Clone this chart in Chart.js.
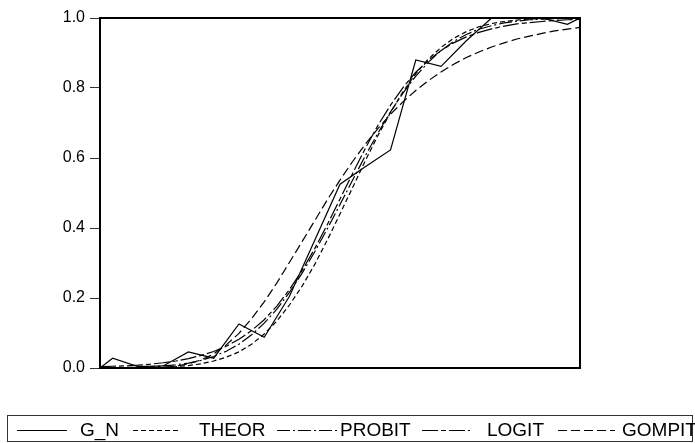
<!DOCTYPE html>
<html>
<head>
<meta charset="utf-8">
<script src="https://cdn.jsdelivr.net/npm/chart.js@4/dist/chart.umd.min.js"></script>
<style>
  html, body { margin: 0; padding: 0; background: #fff; }
  #c { display: block; }
</style>
</head>
<body>
<canvas id="c" width="695" height="443"></canvas>
<script>
// Observed share (G_N), at its observation points
const gnX = [0, 1, 3, 5, 7, 9, 11, 13, 15, 17, 19, 21, 23, 25, 27, 29, 31, 33, 35, 37, 38];
const gnY = [0.000, 0.028, 0.004, 0.006, 0.046, 0.028, 0.126, 0.088, 0.205, 0.365, 0.525,
             0.575, 0.623, 0.880, 0.862, 0.935, 1.000, 1.000, 1.000, 0.982, 1.000];

// Grid of the fitted curves
const fitX = [0, 1, 2, 3, 4, 5, 6, 7, 8, 9, 10, 11, 12, 13, 14, 15, 16, 17, 18, 19,
              20, 21, 22, 23, 24, 25, 26, 27, 28, 29, 30, 31, 32, 33, 34, 35, 36, 37, 38];

const theor = [0.000, 0.000, 0.000, 0.001, 0.001, 0.002, 0.004, 0.007, 0.012, 0.020,
               0.031, 0.046, 0.068, 0.097, 0.134, 0.180, 0.234, 0.296, 0.366, 0.440,
               0.516, 0.592, 0.664, 0.730, 0.790, 0.841, 0.883, 0.916, 0.942, 0.961,
               0.975, 0.984, 0.990, 0.994, 0.997, 0.998, 0.999, 1.000, 1.000];

const probit = [0.000, 0.001, 0.001, 0.002, 0.003, 0.006, 0.009, 0.014, 0.022, 0.033,
                0.048, 0.068, 0.095, 0.128, 0.168, 0.216, 0.271, 0.332, 0.398, 0.467,
                0.537, 0.606, 0.671, 0.732, 0.786, 0.834, 0.874, 0.907, 0.933, 0.953,
                0.968, 0.978, 0.986, 0.991, 0.995, 0.997, 0.998, 0.999, 0.999];

const logit = [0.004, 0.005, 0.006, 0.008, 0.011, 0.015, 0.020, 0.027, 0.036, 0.047,
               0.062, 0.082, 0.107, 0.138, 0.177, 0.224, 0.279, 0.341, 0.410, 0.483,
               0.556, 0.627, 0.693, 0.751, 0.802, 0.845, 0.879, 0.907, 0.929, 0.946,
               0.959, 0.969, 0.977, 0.983, 0.987, 0.990, 0.993, 0.995, 0.996];

const gompit = [0.000, 0.000, 0.000, 0.000, 0.001, 0.002, 0.005, 0.012, 0.023, 0.040,
                0.066, 0.099, 0.141, 0.189, 0.243, 0.302, 0.361, 0.421, 0.481, 0.537,
                0.590, 0.639, 0.684, 0.725, 0.761, 0.793, 0.821, 0.846, 0.868, 0.887,
                0.903, 0.917, 0.929, 0.940, 0.948, 0.956, 0.963, 0.968, 0.973];

const yTicks = [0.0, 0.2, 0.4, 0.6, 0.8, 1.0];

const seriesNames = ['G_N', 'THEOR', 'PROBIT', 'LOGIT', 'GOMPIT'];
const seriesDash = [[], [5, 3], [13, 3, 2, 3], [16, 3, 5, 3], [9, 4]];

const pts = (xs, ys) => xs.map((x, i) => ({ x: x, y: ys[i] }));

function ds(i, data) {
  return {
    label: seriesNames[i],
    data: data,
    borderColor: '#000',
    borderWidth: 1.2,
    borderDash: seriesDash[i],
    pointRadius: 0,
    tension: 0,
    fill: false
  };
}

// Frame around the plot area
const framePlugin = {
  id: 'frame',
  afterDatasetsDraw(chart) {
    const a = chart.chartArea, ctx = chart.ctx;
    ctx.save();
    ctx.strokeStyle = '#000';
    ctx.lineWidth = 2;
    ctx.strokeRect(a.left, a.top, a.right - a.left, a.bottom - a.top);
    ctx.restore();
  }
};

// Boxed legend strip along the bottom
const legendPos = [
  { x0: 17, x1: 67, tx: 80 },
  { x0: 133, x1: 180, tx: 199 },
  { x0: 277, x1: 337, tx: 340 },
  { x0: 422, x1: 470, tx: 487 },
  { x0: 558, x1: 615, tx: 622 }
];
const legendPlugin = {
  id: 'boxLegend',
  afterDraw(chart) {
    const ctx = chart.ctx;
    ctx.save();
    ctx.strokeStyle = '#333';
    ctx.lineWidth = 1;
    ctx.strokeRect(7.5, 415.5, 685, 26);
    const yMid = 430.5;
    ctx.font = '19px "Liberation Sans", Arial, sans-serif';
    ctx.fillStyle = '#000';
    ctx.textBaseline = 'middle';
    chart.data.datasets.forEach((d, i) => {
      const p = legendPos[i];
      ctx.strokeStyle = '#000';
      ctx.setLineDash(d.borderDash || []);
      ctx.beginPath();
      ctx.moveTo(p.x0, yMid);
      ctx.lineTo(p.x1, yMid);
      ctx.stroke();
      ctx.setLineDash([]);
      ctx.fillText(d.label, p.tx, yMid);
    });
    ctx.restore();
  }
};

new Chart(document.getElementById('c'), {
  type: 'line',
  data: {
    datasets: [
      ds(0, pts(gnX, gnY)),
      ds(1, pts(fitX, theor)),
      ds(2, pts(fitX, probit)),
      ds(3, pts(fitX, logit)),
      ds(4, pts(fitX, gompit))
    ]
  },
  options: {
    responsive: false,
    devicePixelRatio: 1,
    animation: false,
    layout: { padding: { left: 0, right: 115, top: 18, bottom: 75 } },
    plugins: { legend: { display: false }, tooltip: { enabled: false } },
    scales: {
      x: {
        type: 'linear',
        min: 0,
        max: 38,
        display: false
      },
      y: {
        min: 0,
        max: 1,
        afterFit(scale) { scale.width = 100; },
        afterBuildTicks(scale) { scale.ticks = yTicks.map(v => ({ value: v })); },
        grid: {
          display: true,
          drawOnChartArea: false,
          drawTicks: true,
          tickLength: 10,
          color: '#333'
        },
        border: { display: false },
        ticks: {
          padding: 5,
          color: '#000',
          font: { family: '"Liberation Sans Narrow", "Liberation Sans", Arial, sans-serif', size: 16 },
          callback: v => v.toFixed(1)
        }
      }
    }
  },
  plugins: [framePlugin, legendPlugin]
});
</script>
</body>
</html>
